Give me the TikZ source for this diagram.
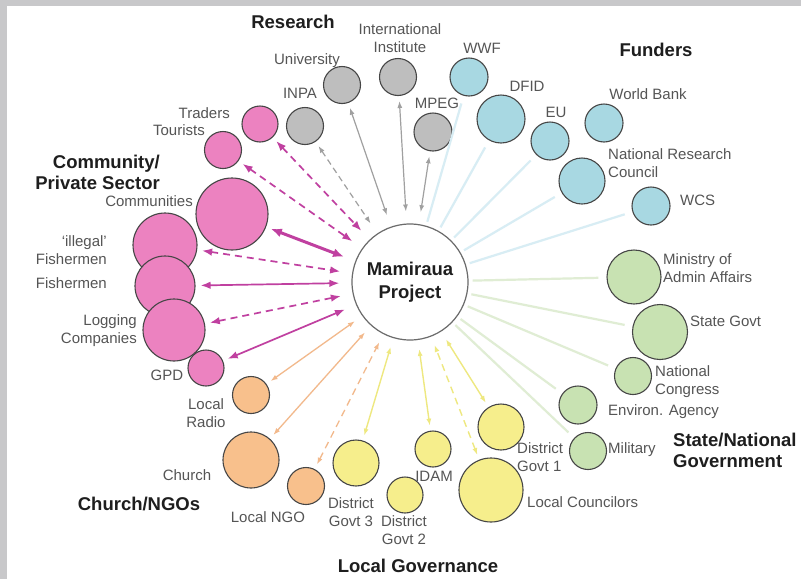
\documentclass[tikz,border=0pt]{standalone}
\usepackage{fontspec}
\setmainfont{Liberation Sans}
\usetikzlibrary{arrows.meta}
\definecolor{pinkf}{RGB}{236,130,192}
\definecolor{grayf}{RGB}{190,190,190}
\definecolor{bluef}{RGB}{168,216,226}
\definecolor{greenf}{RGB}{200,226,178}
\definecolor{yellowf}{RGB}{246,238,140}
\definecolor{orangef}{RGB}{248,192,140}
\definecolor{circline}{RGB}{70,70,70}
\definecolor{pinkl}{RGB}{192,64,160}
\definecolor{grayl}{RGB}{160,160,160}
\definecolor{orangel}{RGB}{242,185,140}
\definecolor{yellowl}{RGB}{238,232,128}
\definecolor{bluel}{RGB}{216,237,244}
\definecolor{greenl}{RGB}{224,237,212}
\definecolor{lblgray}{RGB}{85,85,85}
\definecolor{hdblack}{RGB}{30,30,30}
\definecolor{framegray}{RGB}{200,200,202}
\begin{document}
\begin{tikzpicture}[x=1pt,y=-1pt,
  circ/.style={circle,draw=circline,line width=1.1pt,inner sep=0pt},
  lbl/.style={font=\fontsize{15}{18}\selectfont,text=lblgray,inner sep=0pt},
  hd/.style={font=\fontsize{18.5}{21}\selectfont\bfseries,text=hdblack,inner sep=0pt},
  pk/.style={draw=pinkl,line width=1.7pt,{Latex[length=10pt,width=7.5pt]}-{Latex[length=10pt,width=7.5pt]},shorten <=5pt,shorten >=12pt},
  pkd/.style={pk,dash pattern=on 7pt off 5pt},
  pkt/.style={draw=pinkl,line width=3pt,{Latex[length=11pt,width=9pt]}-{Latex[length=11pt,width=9pt]},shorten <=5pt,shorten >=12pt},
  gr/.style={draw=grayl,line width=1.2pt,{Latex[length=7pt,width=5pt]}-{Latex[length=7pt,width=5pt]},shorten <=5pt,shorten >=12pt},
  grd/.style={gr,dash pattern=on 6pt off 4pt},
  orl/.style={draw=orangel,line width=1.3pt,{Latex[length=7pt,width=5pt]}-{Latex[length=7pt,width=5pt]},shorten <=5pt,shorten >=9pt},
  orld/.style={orl,dash pattern=on 7pt off 5pt},
  yel/.style={draw=yellowl,line width=1.4pt,{Latex[length=7pt,width=5pt]}-{Latex[length=7pt,width=5pt]},shorten <=5pt,shorten >=9pt},
  yeld/.style={yel,dash pattern=on 7pt off 5pt},
  bll/.style={draw=bluel,line width=2.2pt,shorten <=4pt,shorten >=8pt},
  gnl/.style={draw=greenl,line width=2.2pt,shorten <=4pt,shorten >=8pt},
]
\useasboundingbox (0,0) rectangle (801,579);
\fill[framegray] (0,0) rectangle (801,579);
\fill[white] (7,6) rectangle (801,579);

% centre
\node[circle,draw=circline!80,line width=1.2pt,fill=white,minimum size=116pt,inner sep=0pt,
  font=\fontsize{18.5}{23}\selectfont\bfseries,text=hdblack,align=center] (mam) at (410,282) {Mamiraua\\Project};

% Research
\node[circ,fill=grayf,minimum size=37pt] (inpa) at (305,126) {};
\node[circ,fill=grayf,minimum size=37pt] (univ) at (342,85) {};
\node[circ,fill=grayf,minimum size=37pt] (intl) at (398,77) {};
\node[circ,fill=grayf,minimum size=38pt] (mpeg) at (433,132) {};
% Funders
\node[circ,fill=bluef,minimum size=38pt] (wwf) at (469,77) {};
\node[circ,fill=bluef,minimum size=48pt] (dfid) at (501,119) {};
\node[circ,fill=bluef,minimum size=38pt] (eu) at (550,141) {};
\node[circ,fill=bluef,minimum size=38pt] (wb) at (604,123) {};
\node[circ,fill=bluef,minimum size=46pt] (nrc) at (582,181) {};
\node[circ,fill=bluef,minimum size=38pt] (wcs) at (651,206) {};
% State / National
\node[circ,fill=greenf,minimum size=54pt] (min) at (634,277) {};
\node[circ,fill=greenf,minimum size=55pt] (sg) at (660,332) {};
\node[circ,fill=greenf,minimum size=37pt] (nc) at (633,376) {};
\node[circ,fill=greenf,minimum size=38pt] (env) at (578,405) {};
\node[circ,fill=greenf,minimum size=37pt] (mil) at (588,451) {};
% Local governance
\node[circ,fill=yellowf,minimum size=46pt] (dg1) at (501,427) {};
\node[circ,fill=yellowf,minimum size=64pt] (lc) at (491,490) {};
\node[circ,fill=yellowf,minimum size=36pt] (idam) at (433,449) {};
\node[circ,fill=yellowf,minimum size=36pt] (dg2) at (405,495) {};
\node[circ,fill=yellowf,minimum size=46pt] (dg3) at (356,463) {};
% Church / NGOs
\node[circ,fill=orangef,minimum size=37pt] (radio) at (251,395) {};
\node[circ,fill=orangef,minimum size=56pt] (church) at (251,460) {};
\node[circ,fill=orangef,minimum size=37pt] (ngo) at (306,486) {};
% Community / private
\node[circ,fill=pinkf,minimum size=36pt] (trad) at (260,124) {};
\node[circ,fill=pinkf,minimum size=37pt] (tour) at (223,150) {};
\node[circ,fill=pinkf,minimum size=72pt] (comm) at (232,214) {};
\node[circ,fill=pinkf,minimum size=64pt] (ill) at (165,245) {};
\node[circ,fill=pinkf,minimum size=60pt] (fish) at (165,286) {};
\node[circ,fill=pinkf,minimum size=62pt] (log) at (174,330) {};
\node[circ,fill=pinkf,minimum size=36pt] (gpd) at (206,368) {};

% faint connectors
\foreach \n in {wwf,dfid,eu,nrc,wcs} \draw[bll] (mam) -- (\n);
\foreach \n in {min,sg,nc,env,mil} \draw[gnl] (mam) -- (\n);

% research connectors
\draw[grd] (inpa) -- (mam);
\draw[gr] (univ) -- (mam);
\draw[gr] (intl) -- (mam);
\draw[gr] (mpeg) -- (mam);
% community connectors
\draw[pkd] (trad) -- (mam);
\draw[pkd] (tour) -- (mam);
\draw[pkt] (comm) -- (mam);
\draw[pkd] (ill) -- (mam);
\draw[pk] (fish) -- (mam);
\draw[pkd] (log) -- (mam);
\draw[pk] (gpd) -- (mam);
% church connectors
\draw[orl] (radio) -- (mam);
\draw[orl] (church) -- (mam);
\draw[orld] (ngo) -- (mam);
% local governance connectors
\draw[yel] (dg3) -- (mam);
\draw[yel] (idam) -- (mam);
\draw[yeld] (lc) -- (mam);
\draw[yel] (dg1) -- (mam);

% headings
\node[hd] (hres) at (293,22) {Research};
\node[hd] (hfun) at (656,50) {Funders};
\node[hd,align=right,anchor=east] (hcom) at (160,172) {Community/\\Private Sector};
\node[hd,align=left,anchor=west] (hsta) at (673,450) {State/National\\Government};
\node[hd] (hchu) at (139,504) {Church/NGOs};
\node[hd] (hloc) at (418,566) {Local Governance};

% labels
\node[lbl] (luniv) at (307,61) {University};
\node[lbl,align=center] (lintl) at (400,38) {International\\Institute};
\node[lbl] (linpa) at (300,93) {INPA};
\node[lbl] (lmpeg) at (437,103) {MPEG};
\node[lbl] (lwwf) at (482,48) {WWF};
\node[lbl] (ldfid) at (527,86) {DFID};
\node[lbl] (leu) at (556,112) {EU};
\node[lbl] (lwb) at (648,94) {World Bank};
\node[lbl,align=left,anchor=west] (lnrc) at (608,163) {National Research\\Council};
\node[lbl,anchor=west] (lwcs) at (680,200) {WCS};
\node[lbl,align=left,anchor=west] (lmin) at (663,268) {Ministry of\\Admin Affairs};
\node[lbl,anchor=west] (lsg) at (690,321) {State Govt};
\node[lbl,align=left,anchor=west] (lnc) at (655,382) {National\\Congress};
\node[lbl,anchor=west] (lenv) at (608,412) {Environ. Agency};
\node[lbl,anchor=west] (lmil) at (608,450) {Military};
\node[lbl,align=left,anchor=west] (ldg1) at (517,457) {District\\Govt 1};
\node[lbl,anchor=west] (llc) at (527,502) {Local Councilors};
\node[lbl] (lidam) at (434,476) {IDAM};
\node[lbl,align=center] (ldg2) at (404,530) {District\\Govt 2};
\node[lbl,align=center] (ldg3) at (351,512) {District\\Govt 3};
\node[lbl] (lngo) at (268,517) {Local NGO};
\node[lbl] (lchu) at (187,475) {Church};
\node[lbl,align=center] (lrad) at (206,413) {Local\\Radio};
\node[lbl] (lgpd) at (167,375) {GPD};
\node[lbl,align=right,anchor=east] (llog) at (137,331) {Logging\\Companies};
\node[lbl,anchor=east] (lfish) at (107,283) {Fishermen};
\node[lbl,align=right,anchor=east] (lill) at (107,250) {`illegal'\\Fishermen};
\node[lbl,anchor=east] (lcomm) at (193,201) {Communities};
\node[lbl,anchor=east] (ltrad) at (230,113) {Traders};
\node[lbl,anchor=east] (ltour) at (205,130) {Tourists};
\end{tikzpicture}
\end{document}
